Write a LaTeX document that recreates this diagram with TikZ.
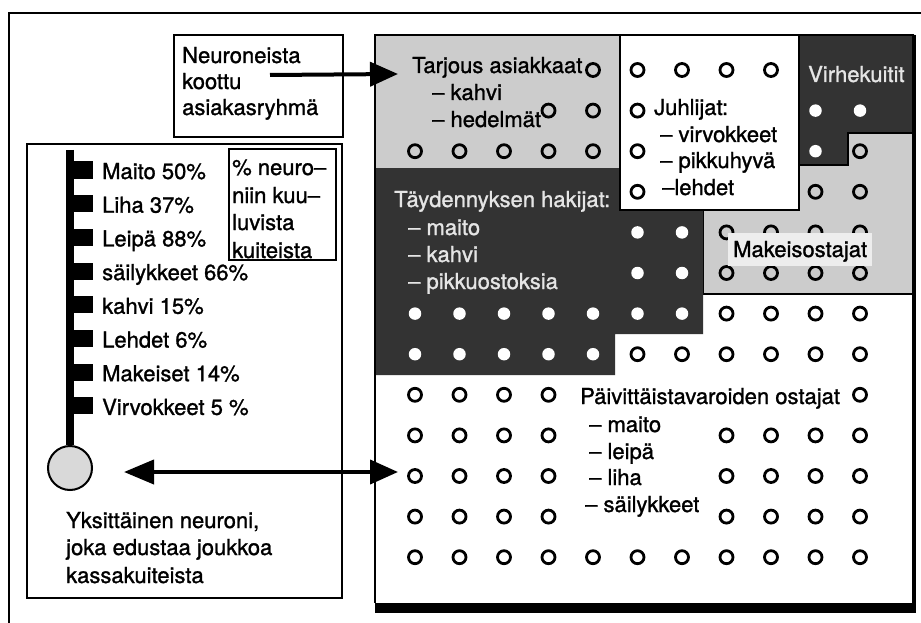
\documentclass[tikz,border=0pt]{standalone}
\usepackage{fontspec}
\setmainfont[FakeBold=1.2]{TeX Gyre Heros}
\usetikzlibrary{arrows.meta}
\begin{document}
\begin{tikzpicture}[x=1pt,y=-1pt,
  txt/.style={inner sep=0pt, anchor=base west, font=\fontsize{22}{27}\selectfont},
  lighttxt/.style={txt, text=black!10},
  ring/.style={circle, draw=black, line width=2.8pt, minimum size=13pt, inner sep=0pt},
  whitedot/.style={circle, fill=white, minimum size=12.5pt, inner sep=0pt},
  lightfill/.style={fill=black!20},
  darkfill/.style={fill=black!80},
  boxframe/.style={draw, line width=1.8pt, anchor=north west, inner sep=0pt},
  bigarrow/.style={line width=4pt, -{Triangle[length=28pt,width=24pt]}},
  dblarrow/.style={line width=4pt, {Triangle[length=30pt,width=24pt]}-{Triangle[length=28pt,width=24pt]}}
]
\fill[white] (0,0) rectangle (921,623);
\useasboundingbox (0,0) rectangle (921,623);

% page frame
\draw[line width=2.5pt] (9,623) -- (9,13) -- (921,13);

% ---------- map of customer groups ----------
\fill[lightfill] (375,35) rectangle (620,168);
\fill[darkfill] (799,35) -- (915,35) -- (915,133) -- (848,133) -- (848,165) -- (799,165) -- cycle;
\filldraw[lightfill, draw=black, line width=1.8pt]
  (703,210) -- (799,210) -- (799,165) -- (848,165) -- (848,133) -- (915,133) -- (915,294) -- (703,294) -- cycle;
\fill[darkfill] (375,168) -- (620,168) -- (620,210) -- (703,210) -- (703,334) -- (615,334) -- (615,375) -- (375,375) -- cycle;
\filldraw[fill=white, draw=black, line width=2pt] (620,35) rectangle (799,210);

% map border with heavy shadow
\draw[line width=1.6pt] (375,603) -- (375,35) -- (913.5,35);
\fill (375,603) rectangle (915.5,613);
\draw[line width=4pt] (913.5,35) -- (913.5,613);

% neurons: open rings
\foreach \r/\cl in {0/{4,5,6,7,8}, 1/{3,4,5}, 2/{0,1,2,3,4,5,10}, 3/{5,9,10},
                    4/{7,8,9,10}, 5/{7,8,9,10}, 6/{7,8,9,10}, 7/{5,6,7,8,9,10},
                    8/{0,1,2,3,10}, 9/{0,1,2,3,7,8,9,10}, 10/{0,1,2,3,7,8,9,10},
                    11/{0,1,2,3,7,8,9,10}, 12/{0,1,2,3,4,5,6,7,8,9,10}}
  \foreach \c in \cl
    \node[ring] (o-\r-\c) at ({415+44.5*\c},{70+40.6*\r}) {};

% neurons on dark ground: white dots
\foreach \r/\cl in {1/{9,10}, 2/{9}, 4/{5,6}, 5/{5,6}, 6/{0,1,2,3,4,5,6}, 7/{0,1,2,3,4}}
  \foreach \c in \cl
    \node[whitedot] (w-\r-\c) at ({415+44.5*\c},{70+40.6*\r}) {};

% group labels
\node[txt] (tarj1) at (412,73) {Tarjous asiakkaat};
\node[txt] (tarj2) at (432,100) {– kahvi};
\node[txt] (tarj3) at (432,127) {– hedelmät};

\node[txt] (juh1) at (654,115) {Juhlijat:};
\node[txt] (juh2) at (660,142) {– virvokkeet};
\node[txt] (juh3) at (660,168) {– pikkuhyvä};
\node[txt] (juh4) at (662,195) {–lehdet};

\node[lighttxt] (virhe) at (808,82) {Virhekuitit};

\node[lighttxt] (tay1) at (394,207) {Täydennyksen hakijat:};
\node[lighttxt] (tay2) at (408,235) {– maito};
\node[lighttxt] (tay3) at (408,262) {– kahvi};
\node[lighttxt] (tay4) at (408,289) {– pikkuostoksia};

\fill[black!7] (728,233) rectangle (872,266);
\node[txt] (mak) at (733,257) {Makeisostajat};

\node[txt] (pv1) at (580,404) {Päivittäistavaroiden ostajat};
\node[txt] (pv2) at (589,432) {– maito};
\node[txt] (pv3) at (589,459) {– leipä};
\node[txt] (pv4) at (589,485) {– liha};
\node[txt] (pv5) at (585,512) {– säilykkeet};

% ---------- explanation box ----------
\node[boxframe, minimum width=169pt, minimum height=102pt] (grpbox) at (173,34) {};
\node[txt] (grp1) at (182,63) {Neuroneista};
\node[txt] (grp2) at (182,89) {koottu};
\node[txt] (grp3) at (182,115) {asiakasryhmä};

% ---------- single neuron panel ----------
\node[boxframe, line width=2pt, minimum width=315pt, minimum height=454pt] (panel) at (26,143) {};
\node[boxframe, minimum width=107pt, minimum height=111pt] (pctbox) at (228,148) {};
\node[txt] (pct1) at (232,175) {\% neuro–};
\node[txt] (pct2) at (232,203) {niin kuu–};
\node[txt] (pct3) at (232,230) {luvista};
\node[txt] (pct4) at (232,258) {kuiteista};

\node[circle, draw, line width=2pt, fill=black!15, minimum size=44pt, inner sep=0pt] (neuron) at (70,468) {};
\coordinate (stemtop) at (70,150);
\draw[line width=8pt] (stemtop) -- (neuron.north);

\foreach \t [count=\i from 0] in {Maito 50\%, Liha 37\%, Leipä 88\%, säilykkeet 66\%,
                                  kahvi 15\%, Lehdet 6\%, Makeiset 14\%, Virvokkeet 5 \%} {
  \fill ({74},{170+33.7*\i-8.5}) rectangle ({93},{170+33.7*\i+8.5});
  \node[txt] (item\i) at ({102},{179+33.7*\i}) {\t};
}

\node[txt] (yks1) at (66,528) {Yksittäinen neuroni,};
\node[txt] (yks2) at (66,555) {joka edustaa joukkoa};
\node[txt] (yks3) at (66,583) {kassakuiteista};

% ---------- arrows ----------
\coordinate (a1) at (270,75);
\coordinate (a2) at (398,74);
\draw[bigarrow] (a1) -- (a2);
\coordinate (b1) at (124,472);
\coordinate (b2) at (398,472);
\draw[dblarrow] (b1) -- (b2);
\end{tikzpicture}
\end{document}
